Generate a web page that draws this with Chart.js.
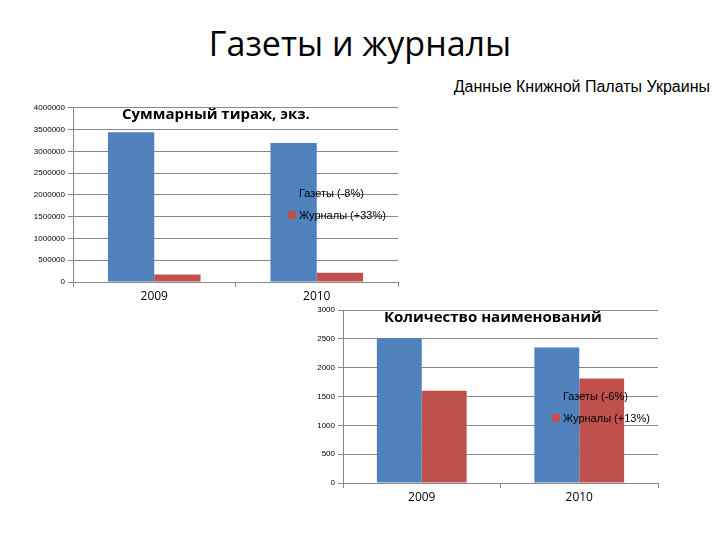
<!DOCTYPE html>
<html><head><meta charset="utf-8">
<script src="https://cdn.jsdelivr.net/npm/chart.js@4"></script>
<style>
body{margin:0;width:720px;height:540px;background:#fff;position:relative;overflow:hidden;font-family:"Liberation Sans",Arial,sans-serif}
#t{position:absolute;left:0;width:720px;top:20px;text-align:center;font-family:"Open Sans",sans-serif;font-size:34px;color:#000}
#s{position:absolute;right:10px;top:78px;font-size:16px;color:#000}
canvas{position:absolute}
</style></head><body>
<div id="t">Газеты и журналы</div>
<div id="s">Данные Книжной Палаты Украины</div>
<div style="position:absolute;left:0;top:100px;width:410px;height:210px"><canvas id="c1"></canvas></div>
<div style="position:absolute;left:300px;top:300px;width:420px;height:210px"><canvas id="c2"></canvas></div>
<script>
const years=["2009","2010"];
const tirazhGazety=[3440000,3190000];
const tirazhZhurnaly=[170000,210000];
const tirazhLabels=["Газеты (-8%)","Журналы (+33%)"];
const namesGazety=[2510,2350];
const namesZhurnaly=[1600,1810];
const namesLabels=["Газеты (-6%)","Журналы (+13%)"];
const BLUE="#4f81bd",RED="#c0504d";
function overlay(title,tx,ty,lx,ly){return{id:'ov',afterDatasetsDraw(ch){const c=ch.ctx;c.save();
c.font='bold 15px "Open Sans",sans-serif';c.fillStyle='#000';c.textBaseline='middle';c.fillText(title,tx,ty);
c.font='11px "Liberation Sans",sans-serif';
ch.data.datasets.forEach((d,i)=>{const y=ly+i*22;c.fillStyle=d.backgroundColor;c.fillRect(lx,y-4,8,8);c.fillStyle='#000';c.fillText(d.label,lx+11,y+1);});
c.restore();}}}
function make(id,g,z,labels,max,step,yW,pad,xFont,title,tx,ty,lx,ly){
new Chart(document.getElementById(id),{type:'bar',data:{labels:years,datasets:[
{label:labels[0],data:g,backgroundColor:BLUE,categoryPercentage:0.57,barPercentage:1},
{label:labels[1],data:z,backgroundColor:RED,categoryPercentage:0.57,barPercentage:1}]},
options:{responsive:true,maintainAspectRatio:false,animation:false,layout:{padding:pad},
plugins:{legend:{display:false},tooltip:{enabled:false}},
scales:{x:{grid:{drawOnChartArea:false,color:'#888',tickLength:5},border:{color:'#888'},ticks:{color:'#000',font:{size:xFont,family:'"Open Sans",sans-serif'},padding:2},afterFit(s){s.height=xFont+10;}},
y:{min:0,max:max,ticks:{stepSize:step,color:'#000',font:{size:8},padding:3,callback:v=>String(v)},grid:{color:'#888',tickLength:5},border:{color:'#888'},afterFit(s){s.width=yW;}}}},
plugins:[overlay(title,tx,ty,lx,ly)]});}
make('c1',tirazhGazety,tirazhZhurnaly,tirazhLabels,4000000,500000,73,{top:7,right:12,bottom:6,left:0},12,"Суммарный тираж, экз.",122,15,288,93);
make('c2',namesGazety,namesZhurnaly,namesLabels,3000,500,43,{top:10,right:62,bottom:5,left:0},12,"Количество наименований",84,18,252,96);
</script></body></html>
